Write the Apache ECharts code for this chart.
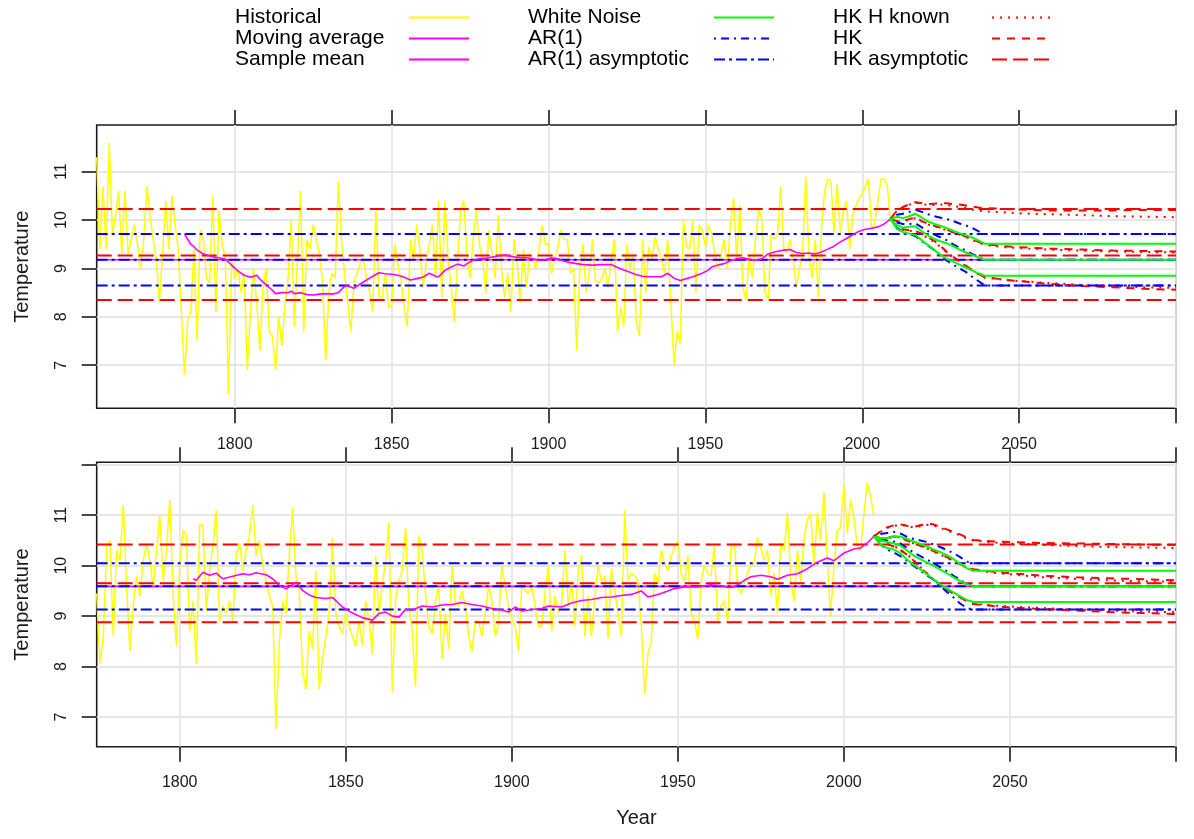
<!DOCTYPE html>
<html>
<head>
<meta charset="utf-8">
<title>Temperature: moving average forecasts</title>
<script src="https://cdn.jsdelivr.net/npm/echarts@6/dist/echarts.min.js"></script>
<style>
  html, body { margin: 0; padding: 0; background: #fff; }
  #chart { width: 1194px; height: 839px; }
</style>
</head>
<body>
<div id="chart"></div>
<script>
const FONT = '"Liberation Sans", Arial, Helvetica, sans-serif';

// ---- axis ticks ----
const xTicks = [1800, 1850, 1900, 1950, 2000, 2050, 2100];
const xLabels = [1800, 1850, 1900, 1950, 2000, 2050];
const yTicksTop = [7, 8, 9, 10, 11];
const yTicksBot = [7, 8, 9, 10, 11, 12];
const yLabels = [7, 8, 9, 10, 11];

// ---- top panel: annual values from 1756 ----
const topStart = 1756;
const topHist = [
  11.3, 9.4, 10.7, 9.4,
  11.6, 9.7, 10.1, 10.6, 9.3, 10.6, 9.3, 9.6, 9.9, 9.5,
  9.0, 9.6, 10.7, 10.1, 9.6, 9.2, 8.3, 9.3, 10.4, 9.4,
  10.5, 9.9, 9.4, 8.1, 6.8, 7.9, 8.1, 9.4, 7.5, 9.8,
  9.6, 8.8, 8.7, 10.5, 8.1, 10.2, 9.5, 9.2, 6.4, 9.2,
  8.8, 9.0, 8.5, 8.9, 6.9, 8.1, 9.0, 8.3, 7.3, 8.6,
  9.0, 7.7, 7.6, 6.9, 8.0, 7.4, 8.2, 8.8, 10.0, 7.8,
  9.2, 10.6, 7.7, 9.6, 9.4, 9.9, 9.6, 9.3, 8.7, 7.1,
  8.5, 8.9, 8.8, 10.8, 9.6, 8.9, 8.3, 7.7, 8.7, 8.9,
  9.1, 9.2, 8.8, 8.5, 8.1, 10.2, 8.4, 8.4, 8.9, 8.2,
  8.2, 9.5, 9.1, 8.75, 8.2, 7.8, 9.6, 9.2, 9.9, 9.4,
  8.6, 9.1, 9.5, 9.9, 8.8, 10.4, 8.4, 10.4, 9.2, 8.6,
  7.9, 9.1, 10.2, 10.4, 9.3, 8.8, 9.6, 10.2, 9.5, 9.2,
  8.5, 9.8, 9.3, 8.8, 10.1, 9.0, 8.4, 8.9, 8.1, 9.6,
  9.1, 8.3, 9.4, 8.6, 9.3, 9.2, 9.0, 9.4, 9.9, 9.5,
  9.5, 8.9, 9.2, 9.45, 9.8, 9.6, 9.6, 8.9, 9.0, 7.3,
  9.0, 9.5, 8.5, 8.9, 9.6, 8.75, 8.7, 8.8, 9.0, 8.6,
  9.2, 9.6, 7.7, 8.2, 7.8, 9.5, 9.0, 9.3, 7.9, 7.6,
  9.6, 8.5, 9.45, 9.2, 9.65, 9.4, 9.2, 8.9, 9.6, 8.3,
  7.0, 7.7, 7.45, 10.0, 9.45, 9.4, 10.0, 8.5, 9.9, 9.8,
  9.45, 9.9, 9.7, 9.3, 9.0, 9.3, 9.6, 9.0, 9.9, 10.45,
  9.2, 10.3, 8.6, 8.35, 9.3, 8.8, 9.6, 10.25, 10.0, 8.5,
  8.35, 9.7, 9.6, 9.7, 10.7, 9.4, 9.3, 9.6, 9.2, 8.6,
  9.0, 9.3, 10.9, 9.3, 8.8, 9.6, 8.4, 9.8, 10.6, 10.85,
  10.8, 9.75, 10.75, 9.75, 10.2, 10.4, 9.4, 10.1, 10.3, 10.45,
  10.55, 10.7, 10.85, 9.8, 9.95, 10.4, 10.85, 10.85, 10.7, 10.0
];
const topMa = [
  [1784, 9.71], [1786, 9.5], [1787, 9.45], [1788, 9.38], [1790, 9.3], [1793, 9.24], [1795, 9.22],
  [1797, 9.19], [1799, 9.07], [1801, 8.95], [1803, 8.86], [1805, 8.82], [1807, 8.86], [1808, 8.78],
  [1810, 8.66], [1812, 8.55], [1813, 8.48], [1815, 8.5], [1817, 8.5], [1818, 8.53], [1819, 8.48],
  [1821, 8.5], [1823, 8.46], [1825, 8.45], [1827, 8.47], [1829, 8.48], [1831, 8.47], [1833, 8.5],
  [1835, 8.63], [1836, 8.64], [1838, 8.59], [1840, 8.68], [1841, 8.72], [1843, 8.8], [1844, 8.84],
  [1846, 8.91], [1848, 8.89], [1850, 8.88], [1852, 8.86], [1854, 8.82], [1856, 8.76], [1858, 8.79],
  [1860, 8.82], [1862, 8.9], [1864, 8.84], [1865, 8.83], [1867, 8.96], [1869, 9.03], [1871, 9.09],
  [1873, 9.05], [1874, 9.1], [1876, 9.17], [1878, 9.2], [1881, 9.22], [1884, 9.26], [1886, 9.28],
  [1889, 9.24], [1891, 9.22], [1893, 9.22], [1895, 9.2], [1897, 9.17], [1899, 9.18], [1901, 9.22],
  [1903, 9.2], [1905, 9.15], [1907, 9.12], [1909, 9.1], [1911, 9.08], [1914, 9.07], [1917, 9.08],
  [1920, 9.08], [1922, 9.02], [1924, 8.97], [1926, 8.92], [1928, 8.87], [1930, 8.84], [1932, 8.83],
  [1934, 8.83], [1936, 8.83], [1938, 8.9], [1940, 8.8], [1942, 8.75], [1944, 8.79], [1946, 8.83],
  [1949, 8.9], [1951, 8.97], [1952, 9.03], [1954, 9.07], [1956, 9.1], [1958, 9.16], [1960, 9.2],
  [1962, 9.22], [1964, 9.19], [1966, 9.17], [1968, 9.2], [1970, 9.3], [1972, 9.34], [1975, 9.38],
  [1977, 9.39], [1979, 9.33], [1981, 9.31], [1983, 9.32], [1985, 9.3], [1987, 9.34], [1989, 9.4],
  [1991, 9.46], [1993, 9.55], [1995, 9.62], [1997, 9.7], [1999, 9.77], [2001, 9.81], [2003, 9.83],
  [2005, 9.86], [2007, 9.92], [2009, 10.02]
];
const topSampleMean = 9.18;
const topArAsym = [9.71, 9.18, 8.65];
const topHkAsym = [10.23, 9.27, 8.35];

// ---- bottom panel: annual values from 1775 ----
const botStart = 1775;
const botHist = [
  9.45, 8.06, 8.6, 10.4, 10.5,
  8.6, 10.3, 10.1, 11.2, 9.6, 8.3, 9.2, 9.8, 9.4, 10.1,
  10.45, 10.1, 9.55, 10.3, 11.0, 9.7, 10.3, 11.3, 9.45, 8.4,
  10.0, 10.7, 10.6, 8.7, 9.3, 8.05, 10.8, 10.8, 9.1, 9.9,
  10.4, 11.1, 8.9, 9.2, 9.05, 9.3, 8.9, 10.2, 10.45, 9.9,
  10.3, 10.6, 11.2, 10.2, 10.5, 10.0, 9.7, 9.4, 9.2, 6.75,
  8.5, 9.3, 9.05, 10.2, 11.15, 9.8, 9.5, 7.9, 7.55, 8.7,
  8.35, 9.9, 7.55, 8.15, 8.6, 9.05, 10.55, 9.05, 8.8, 8.65,
  9.05, 8.8, 8.6, 8.4, 8.9, 8.4, 9.3, 8.9, 8.25, 10.2,
  9.0, 9.6, 10.1, 10.85, 7.5, 9.3, 9.7, 9.9, 10.75, 9.2,
  8.7, 7.6, 10.6, 10.3, 9.45, 8.8, 8.65, 9.3, 9.6, 8.15,
  9.05, 8.35, 10.0, 9.3, 9.2, 9.5, 9.2, 8.6, 8.3, 8.9,
  8.9, 8.6, 9.05, 9.6, 9.3, 8.6, 8.85, 10.0, 9.6, 9.2,
  8.95, 8.8, 8.3, 9.6, 9.5, 9.45, 9.6, 9.2, 8.8, 8.8,
  9.45, 10.0, 8.7, 9.4, 9.05, 9.25, 10.3, 9.2, 9.7, 8.8,
  9.9, 10.2, 8.6, 9.4, 8.6, 9.4, 10.0, 9.7, 9.8, 8.55,
  9.95, 9.5, 9.05, 8.6, 11.1, 9.7, 9.85, 9.8, 9.7, 8.8,
  7.45, 8.25, 8.5, 9.85, 9.65, 10.3, 10.05, 9.9, 10.2, 10.35,
  10.5, 9.85, 9.7, 10.2, 9.05, 8.9, 8.55, 9.7, 10.0, 9.85,
  9.8, 10.4, 8.9, 9.2, 9.3, 8.9, 10.35, 10.45, 9.6, 9.45,
  9.65, 9.85, 10.0, 10.05, 10.55, 10.35, 10.1, 10.3, 9.4, 9.85,
  9.05, 10.45, 10.3, 11.05, 9.7, 9.3, 10.3, 9.65, 10.55, 10.9,
  11.05, 10.0, 11.05, 10.5, 11.45, 10.1, 9.0, 10.0, 10.7, 10.75,
  11.6, 10.65, 11.3, 10.95, 10.4, 10.3, 11.0, 11.65, 11.4, 11.0
];
const botMa = [
  [1804, 9.74], [1805, 9.71], [1807, 9.87], [1809, 9.81], [1811, 9.85], [1813, 9.74], [1816, 9.79],
  [1819, 9.84], [1821, 9.82], [1823, 9.86], [1826, 9.82], [1828, 9.74], [1830, 9.61], [1832, 9.54],
  [1835, 9.67], [1837, 9.51], [1839, 9.42], [1841, 9.37], [1844, 9.35], [1846, 9.37], [1849, 9.18],
  [1852, 9.06], [1855, 8.97], [1858, 8.92], [1860, 9.05], [1862, 9.08], [1864, 9.0], [1866, 8.98],
  [1868, 9.13], [1870, 9.12], [1873, 9.2], [1876, 9.18], [1879, 9.22], [1882, 9.23], [1885, 9.27],
  [1888, 9.23], [1891, 9.2], [1894, 9.15], [1897, 9.12], [1899, 9.08], [1901, 9.18], [1903, 9.1],
  [1906, 9.13], [1909, 9.15], [1911, 9.2], [1915, 9.18], [1918, 9.26], [1921, 9.31], [1924, 9.33],
  [1927, 9.37], [1930, 9.38], [1933, 9.41], [1936, 9.43], [1939, 9.5], [1941, 9.38], [1944, 9.43],
  [1947, 9.5], [1949, 9.55], [1952, 9.58], [1956, 9.58], [1960, 9.62], [1963, 9.6], [1965, 9.57],
  [1967, 9.58], [1970, 9.71], [1972, 9.78], [1975, 9.81], [1978, 9.78], [1980, 9.73], [1983, 9.81],
  [1986, 9.84], [1989, 9.94], [1992, 10.07], [1995, 10.15], [1997, 10.1], [2000, 10.25], [2003, 10.33],
  [2005, 10.35], [2007, 10.45], [2009, 10.58]
];
const botSampleMean = 9.59;
const botArAsym = [10.05, 9.59, 9.13];
const botHkAsym = [10.42, 9.65, 8.88];

// ---- forecasts of the moving average ----
const fcYears = [2009, 2011, 2013, 2015, 2017, 2019, 2021, 2023, 2025, 2027, 2029, 2031, 2033, 2035, 2037, 2039,
                 2045, 2050, 2060, 2070, 2080, 2090, 2100];

const topWnUp  = [10.02, 10.07, 10.04, 10.08, 10.13, 10.05, 9.97, 9.92, 9.88, 9.83, 9.78, 9.73, 9.69, 9.64, 9.58, 9.51, 9.51, 9.51, 9.51, 9.51, 9.51, 9.51, 9.51];
const topWnMid = [10.02, 9.9, 9.84, 9.86, 9.87, 9.77, 9.68, 9.61, 9.56, 9.52, 9.46, 9.39, 9.33, 9.28, 9.23, 9.18, 9.18, 9.18, 9.18, 9.18, 9.18, 9.18, 9.18];
const topWnLo  = [10.02, 9.82, 9.75, 9.72, 9.69, 9.58, 9.48, 9.38, 9.28, 9.2, 9.14, 9.08, 9.02, 8.96, 8.9, 8.85, 8.85, 8.85, 8.85, 8.85, 8.85, 8.85, 8.85];
const topArUp  = [10.02, 10.11, 10.13, 10.17, 10.21, 10.17, 10.12, 10.08, 10.05, 10.02, 9.98, 9.93, 9.89, 9.84, 9.77, 9.71, 9.71, 9.71, 9.71, 9.71, 9.71, 9.71, 9.71];
const topArMid = [10.02, 9.95, 9.92, 9.92, 9.93, 9.85, 9.77, 9.7, 9.64, 9.58, 9.5, 9.43, 9.37, 9.3, 9.24, 9.18, 9.18, 9.18, 9.18, 9.18, 9.18, 9.18, 9.18];
const topArLo  = [10.02, 9.84, 9.76, 9.71, 9.67, 9.56, 9.47, 9.38, 9.26, 9.16, 9.08, 9.0, 8.93, 8.83, 8.74, 8.65, 8.65, 8.65, 8.65, 8.65, 8.65, 8.65, 8.65];
const topHkUp  = [10.02, 10.2, 10.27, 10.33, 10.37, 10.35, 10.33, 10.34, 10.35, 10.35, 10.33, 10.32, 10.3, 10.28, 10.26, 10.25, 10.23, 10.22, 10.2, 10.2, 10.2, 10.21, 10.21];
const topHkMid = [10.02, 9.98, 9.98, 10.02, 10.05, 9.98, 9.92, 9.88, 9.84, 9.8, 9.75, 9.71, 9.66, 9.6, 9.55, 9.5, 9.46, 9.44, 9.41, 9.39, 9.37, 9.36, 9.35];
const topHkLo  = [10.02, 9.86, 9.81, 9.79, 9.77, 9.72, 9.64, 9.57, 9.46, 9.34, 9.24, 9.15, 9.06, 8.97, 8.89, 8.82, 8.77, 8.74, 8.68, 8.64, 8.61, 8.58, 8.56];
const topHkhUp  = [10.02, 10.19, 10.26, 10.32, 10.36, 10.33, 10.31, 10.31, 10.32, 10.31, 10.29, 10.27, 10.25, 10.22, 10.2, 10.18, 10.16, 10.14, 10.12, 10.1, 10.08, 10.07, 10.06];
const topHkhMid = [10.02, 9.97, 9.97, 10.01, 10.04, 9.97, 9.91, 9.87, 9.83, 9.79, 9.74, 9.7, 9.65, 9.59, 9.54, 9.49, 9.44, 9.42, 9.39, 9.37, 9.35, 9.34, 9.33];
const topHkhLo  = [10.02, 9.85, 9.8, 9.78, 9.76, 9.7, 9.62, 9.55, 9.44, 9.33, 9.23, 9.14, 9.05, 8.96, 8.88, 8.81, 8.77, 8.74, 8.7, 8.66, 8.63, 8.61, 8.6];

const botWnUp  = [10.58, 10.55, 10.55, 10.58, 10.58, 10.53, 10.48, 10.43, 10.38, 10.32, 10.27, 10.21, 10.13, 10.04, 9.95, 9.9, 9.9, 9.9, 9.9, 9.9, 9.9, 9.9, 9.9];
const botWnMid = [10.58, 10.5, 10.47, 10.44, 10.4, 10.3, 10.2, 10.13, 10.06, 10.0, 9.92, 9.85, 9.77, 9.7, 9.63, 9.59, 9.59, 9.59, 9.59, 9.59, 9.59, 9.59, 9.59];
const botWnLo  = [10.58, 10.42, 10.35, 10.32, 10.25, 10.12, 10.02, 9.93, 9.83, 9.73, 9.63, 9.55, 9.47, 9.39, 9.32, 9.28, 9.28, 9.28, 9.28, 9.28, 9.28, 9.28, 9.28];
const botArUp  = [10.58, 10.63, 10.65, 10.67, 10.64, 10.57, 10.53, 10.5, 10.47, 10.42, 10.37, 10.31, 10.25, 10.17, 10.08, 10.05, 10.05, 10.05, 10.05, 10.05, 10.05, 10.05, 10.05];
const botArMid = [10.58, 10.53, 10.5, 10.48, 10.44, 10.35, 10.26, 10.19, 10.12, 10.05, 9.97, 9.89, 9.8, 9.72, 9.64, 9.59, 9.59, 9.59, 9.59, 9.59, 9.59, 9.59, 9.59];
const botArLo  = [10.58, 10.42, 10.32, 10.26, 10.19, 10.1, 10.0, 9.9, 9.81, 9.72, 9.6, 9.48, 9.37, 9.25, 9.16, 9.13, 9.13, 9.13, 9.13, 9.13, 9.13, 9.13, 9.13];
const botHkUp  = [10.58, 10.68, 10.76, 10.8, 10.82, 10.79, 10.77, 10.8, 10.83, 10.82, 10.77, 10.72, 10.67, 10.62, 10.56, 10.51, 10.48, 10.47, 10.45, 10.44, 10.43, 10.42, 10.41];
const botHkMid = [10.58, 10.55, 10.55, 10.58, 10.57, 10.5, 10.45, 10.4, 10.35, 10.29, 10.23, 10.17, 10.1, 10.03, 9.97, 9.93, 9.88, 9.85, 9.8, 9.77, 9.75, 9.73, 9.71];
const botHkLo  = [10.58, 10.49, 10.43, 10.38, 10.31, 10.22, 10.1, 9.96, 9.84, 9.72, 9.63, 9.53, 9.44, 9.37, 9.29, 9.24, 9.2, 9.17, 9.14, 9.11, 9.08, 9.06, 9.04];
const botHkhUp  = [10.58, 10.67, 10.75, 10.79, 10.81, 10.78, 10.76, 10.78, 10.81, 10.8, 10.75, 10.7, 10.65, 10.6, 10.54, 10.5, 10.46, 10.44, 10.41, 10.39, 10.37, 10.36, 10.35];
const botHkhMid = [10.58, 10.54, 10.54, 10.57, 10.56, 10.49, 10.44, 10.39, 10.34, 10.28, 10.22, 10.16, 10.09, 10.02, 9.96, 9.92, 9.86, 9.83, 9.77, 9.74, 9.71, 9.69, 9.68];
const botHkhLo  = [10.58, 10.5, 10.44, 10.39, 10.32, 10.23, 10.11, 9.97, 9.85, 9.73, 9.64, 9.54, 9.45, 9.38, 9.3, 9.25, 9.21, 9.19, 9.16, 9.13, 9.11, 9.09, 9.08];

// ---- styles ----
const YELLOW = '#ffff00', MAGENTA = '#ff00ff', GREEN = '#00ff00', BLUE = '#0000ff', RED = '#ff0000';
const DOTTED = [2, 6];
const DASHED = [8, 7];
const LONGDASH = [15, 6];
const DOTDASH = [2, 5, 8, 5];
const TWODASH = [11, 4, 3, 4];
const INK = '#1a1a1a';

function line(name, g, data, color, width, dash) {
  return {
    name: name,
    type: 'line',
    xAxisIndex: g * 2,
    yAxisIndex: g,
    data: data,
    symbol: 'none',
    silent: true,
    lineStyle: { color: color, width: width, type: dash || 'solid' },
    itemStyle: { color: color },
    emphasis: { disabled: true }
  };
}

function panelSeries(g, p) {
  const flat = v => [[p.xMin, v], [2100, v]];
  const fc = ys => fcYears.map((x, i) => [x, ys[i]]);
  const s = [];
  s.push(line('Historical', g, p.hist.map((v, i) => [p.start + i, v]), YELLOW, 1.5));
  s.push(line('Sample mean', g, flat(p.mean), MAGENTA, 1.6));
  p.hkAsym.forEach(v => s.push(line('HK asymptotic', g, flat(v), RED, 2, LONGDASH)));
  p.arAsym.forEach(v => s.push(line('AR(1) asymptotic', g, flat(v), BLUE, 2, TWODASH)));
  s.push(line('Moving average', g, p.ma, MAGENTA, 1.6));
  p.hkh.forEach(ys => s.push(line('HK H known', g, fc(ys), RED, 2, DOTTED)));
  p.hk.forEach(ys => s.push(line('HK', g, fc(ys), RED, 2, DASHED)));
  p.ar.forEach(ys => s.push(line('AR(1)', g, fc(ys), BLUE, 2, DOTDASH)));
  p.wn.forEach(ys => s.push(line('White Noise', g, fc(ys), GREEN, 2)));
  return s;
}

const tickStyle = { color: INK, width: 1.6 };
const gridLine = { show: true, lineStyle: { color: '#e6e6e6', width: 1.8 } };
const plain = v => String(v);

function xAxes(g, xMin, name) {
  return [
    {
      type: 'value', gridIndex: g, min: xMin, max: 2100, position: 'bottom',
      axisLine: { show: false },
      axisTick: { show: true, inside: false, length: 15, lineStyle: tickStyle, customValues: xTicks },
      axisLabel: { show: true, customValues: xLabels, formatter: plain, margin: 28, fontSize: 16, color: INK, fontFamily: FONT },
      splitLine: gridLine,
      name: name, nameLocation: 'middle', nameGap: 62,
      nameTextStyle: { fontSize: 20, color: INK, fontFamily: FONT }
    },
    {
      type: 'value', gridIndex: g, min: xMin, max: 2100, position: 'top',
      axisLine: { show: false },
      axisTick: { show: true, inside: false, length: 15, lineStyle: tickStyle, customValues: xTicks },
      axisLabel: { show: false },
      splitLine: { show: false }
    }
  ];
}

function yAxis(g, min, max, ticks) {
  return {
    type: 'value', gridIndex: g, min: min, max: max, position: 'left',
    axisLine: { show: false },
    axisTick: { show: true, inside: false, length: 15, lineStyle: tickStyle, customValues: ticks },
    axisLabel: { show: true, customValues: yLabels, formatter: plain, rotate: 90, margin: 27, fontSize: 16, color: INK, fontFamily: FONT },
    splitLine: gridLine,
    name: 'Temperature', nameLocation: 'middle', nameGap: 64,
    nameTextStyle: { fontSize: 20, color: INK, fontFamily: FONT }
  };
}

function legendCol(left, textWidth, names) {
  return {
    orient: 'vertical', left: left, top: 7, padding: 0,
    align: 'right', itemWidth: 60, itemHeight: 14, itemGap: 0,
    selectedMode: false,
    data: names,
    formatter: '{t|{name}}',
    itemStyle: { opacity: 0 },
    textStyle: {
      color: '#000', fontFamily: FONT, fontSize: 21, lineHeight: 21,
      rich: { t: { width: textWidth, align: 'left', color: '#000', fontFamily: FONT, fontSize: 21, lineHeight: 21 } }
    }
  };
}

const topPanel = {
  start: topStart, xMin: 1756, hist: topHist, ma: topMa, mean: topSampleMean,
  arAsym: topArAsym, hkAsym: topHkAsym,
  wn: [topWnUp, topWnMid, topWnLo], ar: [topArUp, topArMid, topArLo],
  hk: [topHkUp, topHkMid, topHkLo], hkh: [topHkhUp, topHkhMid, topHkhLo]
};
const botPanel = {
  start: botStart, xMin: 1775, hist: botHist, ma: botMa, mean: botSampleMean,
  arAsym: botArAsym, hkAsym: botHkAsym,
  wn: [botWnUp, botWnMid, botWnLo], ar: [botArUp, botArMid, botArLo],
  hk: [botHkUp, botHkMid, botHkLo], hkh: [botHkhUp, botHkhMid, botHkhLo]
};

const option = {
  animation: false,
  backgroundColor: '#fff',
  textStyle: { fontFamily: FONT },
  legend: [
    legendCol(235, 169, ['Historical', 'Moving average', 'Sample mean']),
    legendCol(528, 181, ['White Noise', 'AR(1)', 'AR(1) asymptotic']),
    legendCol(833, 154, ['HK H known', 'HK', 'HK asymptotic'])
  ],
  grid: [
    { left: 96.7, right: 18, top: 125, height: 283.3, show: true, borderColor: INK, borderWidth: 1.6,
      backgroundColor: 'transparent', containLabel: false, outerBoundsMode: 'none' },
    { left: 96.7, right: 18, top: 462.3, height: 284.4, show: true, borderColor: INK, borderWidth: 1.6,
      backgroundColor: 'transparent', containLabel: false, outerBoundsMode: 'none' }
  ],
  xAxis: xAxes(0, 1756, '').concat(xAxes(1, 1775, 'Year')),
  yAxis: [yAxis(0, 6.11, 11.965, yTicksTop), yAxis(1, 6.41, 12.05, yTicksBot)],
  series: panelSeries(0, topPanel).concat(panelSeries(1, botPanel))
};

const chart = echarts.init(document.getElementById('chart'), null, { renderer: 'canvas' });
chart.setOption(option);
</script>
</body>
</html>
